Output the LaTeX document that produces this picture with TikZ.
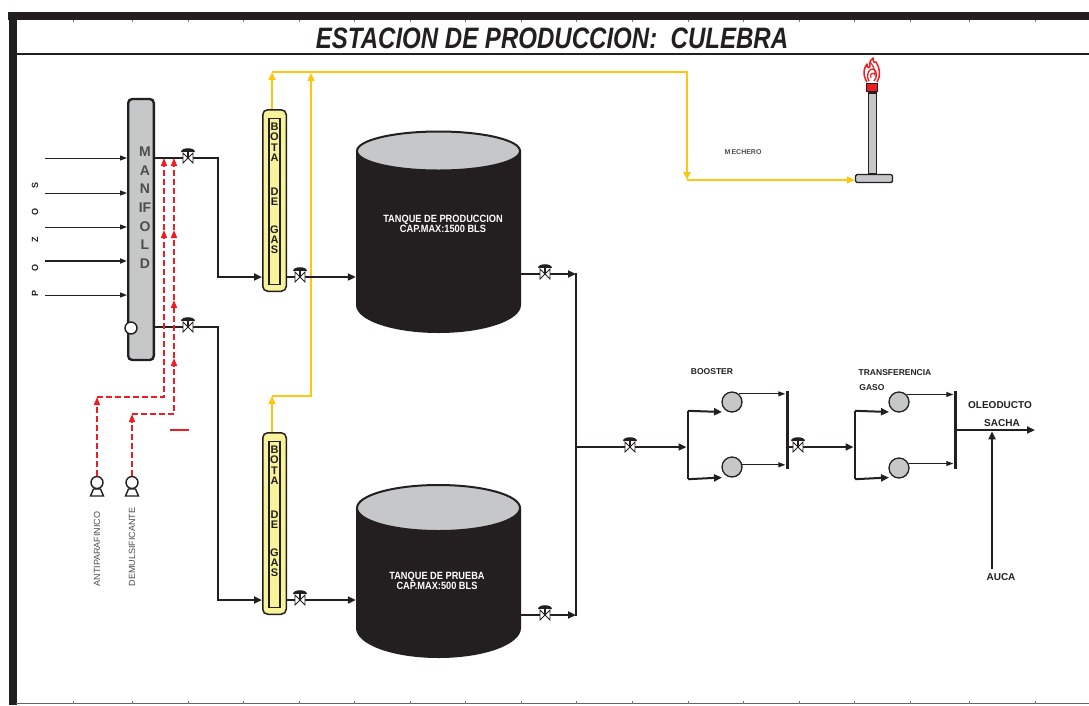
\documentclass[tikz,border=0pt]{standalone}
\usepackage{graphicx}
\usepackage{fontspec}
\setmainfont{Liberation Sans}
\usetikzlibrary{arrows.meta}
\definecolor{ink}{HTML}{231F20}
\definecolor{txtgray}{HTML}{4D4D4F}
\definecolor{mgray}{HTML}{C6C7C8}
\definecolor{botay}{HTML}{F8F39B}
\definecolor{gasy}{HTML}{FDC70F}
\definecolor{chemred}{HTML}{EE1D23}
\begin{document}
\begin{tikzpicture}[x=1pt,y=-1pt,
  pipe/.style={draw=ink,line width=2.4pt},
  feed/.style={draw=ink,line width=1pt},
  bigtip/.style={-{Triangle[length=8pt,width=7pt]}},
  smalltip/.style={-{Triangle[length=7pt,width=5pt]}},
  gas/.style={draw=gasy,line width=2pt},
  gastip/.style={-{Triangle[length=8pt,width=7pt]}},
  chem/.style={draw=chemred,line width=1.5pt,dash pattern=on 6pt off 3pt},
  chemtip/.style={-{Triangle[length=8pt,width=6pt]}},
  lbl/.style={font=\bfseries\fontsize{8.5}{9}\selectfont,text=ink,inner sep=0pt},
  pumpc/.style={circle,draw=ink,line width=1.3pt,fill=mgray,minimum size=20pt,inner sep=0pt},
  dosing/.style={circle,draw=ink,line width=1.4pt,fill=white,minimum size=12pt,inner sep=0pt},
  header/.style={fill=ink,minimum width=2.6pt,inner sep=0pt},
  botabox/.style={draw=ink,line width=1.5pt,fill=botay,rounded corners=5pt,minimum width=23.5pt,minimum height=181.5pt,inner sep=0pt},
  botainner/.style={draw=ink,line width=1.2pt,minimum width=11pt,minimum height=166pt,inner sep=0pt},
  botaletter/.style={font=\bfseries\fontsize{11}{11}\selectfont,text=ink,inner sep=0pt},
  tanktext/.style={font=\bfseries\fontsize{10.5}{10.7}\selectfont,text=white,align=center,inner sep=0pt},
  valve/.pic={
    \draw[ink,line width=0.9pt,fill=white] (-5,-5) -- (-5,5) -- (5,-5) -- (5,5) -- cycle;
    \draw[ink,line width=1.2pt] (0,0) -- (0,-7);
    \fill[ink] (-7,-6) .. controls (-7,-11) and (7,-11) .. (7,-6) -- cycle;
  },
]
% ---------- sheet frame ----------
\fill[white] (0,0) rectangle (1089,705);
\useasboundingbox (0,0) rectangle (1089,705);
\fill[ink] (8,12) rectangle (1089,19.5);
\fill[ink] (9,12) rectangle (16.5,705);
\draw[ink,line width=2.6pt] (16,54) -- (1089,54);
\draw[ink!70,line width=0.8pt] (16,703.8) -- (1089,703.8);
\foreach \tx in {73,132,188,243,299,354,410,465,521,576,632,688,743,799,854,910,969,1035}{
  \draw[ink!60,line width=0.6pt] (\tx,19.5) -- (\tx,21.5);
  \draw[ink!60,line width=0.6pt] (\tx,701) -- (\tx,703.5);
}
\node[font=\bfseries\itshape\fontsize{29.5}{30}\selectfont,text=ink,inner sep=0pt] (title) at (552,38)
  {\scalebox{0.815}[1]{ESTACION DE PRODUCCION:\ \ CULEBRA}};

% ---------- flare ----------
\node[draw=ink,line width=1.2pt,fill=mgray,minimum width=8pt,minimum height=81pt,inner sep=0pt] (flarestem) at (872.5,133.5) {};
\node[draw=ink,line width=1.4pt,fill=mgray,rounded corners=1.5pt,minimum width=37pt,minimum height=8pt,inner sep=0pt] (flarebase) at (874,178.5) {};
\node[draw=ink,line width=1.2pt,fill=chemred,minimum width=11pt,minimum height=8pt,inner sep=0pt] (flaretip) at (872,87.5) {};
\draw[chemred,line width=1.5pt,line join=round] (867,82) .. controls (862,74) and (864,68) .. (867,64)
  .. controls (867,68) and (869,69) .. (870,66) .. controls (869,62) and (871,59) .. (873,58)
  .. controls (873,62) and (875,64) .. (876,62) .. controls (880,68) and (881,76) .. (877,82);
\draw[chemred,line width=1.3pt] (869,81) .. controls (865,74) and (870,68) .. (873,69)
  .. controls (878,71) and (877,78) .. (874,81);
\draw[chemred,line width=1.1pt] (871,78) .. controls (869,73) and (874,72) .. (875,75)
  .. controls (876,70) and (872,64) .. (870,62);
\node[font=\bfseries\fontsize{7}{7}\selectfont,text=txtgray,inner sep=0pt] (mech) at (743,152) {M\,ECHERO};

% ---------- manifold ----------
\node[draw=ink,line width=2.4pt,fill=mgray,rounded corners=4pt,minimum width=25.6pt,minimum height=261pt,inner sep=0pt] (manifold) at (141,229.5) {};
\foreach \ch/\yy [count=\k] in {M/152,A/170.5,N/189,IF/208,O/226.5,L/245,D/263.5}
  \node[font=\bfseries\fontsize{14}{14}\selectfont,text=txtgray,inner sep=0pt] (mf\k) at (145,\yy) {\ch};
\node[dosing] (mcirc) at (131,328) {};

% wells
\foreach \yy [count=\k] in {158,193,227,261,295} \coordinate (w\k) at (45,\yy);
\foreach \k in {1,2,3,5} \draw[feed,smalltip] (w\k) -- (w\k -| manifold.west);
\draw[feed,line width=1.8pt,smalltip] (w4) -- (w4 -| manifold.west);
\foreach \ch/\yy [count=\k] in {P/293,O/268,Z/240,O/212,S/185}
  \node[rotate=90,font=\bfseries\fontsize{9}{9}\selectfont,text=ink,inner sep=0pt] (pz\k) at (35,\yy) {\ch};

% ---------- gas boots ----------
\node[botabox] (bota1) at (274.5,200.5) {};
\node[botainner] (bota1in) at (274.5,201.5) {};
\node[botabox] (bota2) at (274.5,523.5) {};
\node[botainner] (bota2in) at (274.5,524.5) {};
\foreach \ch/\dy [count=\k] in {B/18,O/28,T/38.5,A/48.5,D/83,E/93,G/120.5,A/130.5,S/141}{
  \node[botaletter] (ba\k) at (274.5,109+\dy) {\ch};
  \node[botaletter] (bb\k) at (274.5,432+\dy) {\ch};
}

\coordinate (ga) at (272,72);
\coordinate (gb) at (687,72);
\coordinate (gc) at (687,180);
\coordinate (gd) at (272,396);
\coordinate (ge) at (311,396);
\coordinate (gf) at (311,73);
\draw[gas,gastip] ([xshift=-2.5pt]bota1.north) -- (ga);
\draw[gas,gastip] (ga) -- (gb) -- (gc);
\draw[gas,gastip] (gc) -- (gc -| flarebase.west);
\draw[gas,gastip] ([xshift=-2.5pt]bota2.north) -- (gd);
\draw[gas,line width=1.6pt,gastip] (gd) -- (ge) -- (gf);

% ---------- tanks ----------
\fill[ink] (356,151) -- (356,305) arc[start angle=180,end angle=360,x radius=82.5pt,y radius=28pt] -- (521,151) -- cycle;
\draw[ink,line width=2pt,fill=mgray] (438.5,151) ellipse [x radius=81.5pt,y radius=19.5pt];
\node[inner sep=0pt,minimum width=165pt,minimum height=150pt] (tank1) at (438.5,230) {};
\node[tanktext] (t1label) at (443,224)
  {\scalebox{0.88}[1]{TANQUE DE PRODUCCION}\\\scalebox{0.88}[1]{CAP.MAX:1500 BLS}};

\fill[ink] (356,508) -- (356,628) arc[start angle=180,end angle=360,x radius=82.5pt,y radius=30pt] -- (521,508) -- cycle;
\draw[ink,line width=2pt,fill=mgray] (438.5,508) ellipse [x radius=81.5pt,y radius=23pt];
\node[inner sep=0pt,minimum width=165pt,minimum height=120pt] (tank2) at (438.5,570) {};
\node[tanktext] (t2label) at (437,581)
  {\scalebox{0.88}[1]{TANQUE DE PRUEBA}\\\scalebox{0.88}[1]{CAP.MAX:500 BLS}};

% ---------- process piping ----------
\coordinate (j1) at (218,158);
\coordinate (j2) at (218,327);
\coordinate (k1) at (218,277);
\coordinate (k2) at (218,600);
\draw[pipe,bigtip] (manifold.east |- j1) -- (j1) -- (k1) -- (k1 -| bota1.west);
\draw[pipe,bigtip] (manifold.east |- j2) -- (j2) -- (k2) -- (k2 -| bota2.west);
\draw[pipe,bigtip] (k1 -| bota1.east) -- (k1 -| tank1.west);
\draw[pipe,bigtip] (k2 -| bota2.east) -- (k2 -| tank2.west);

\coordinate (c1) at (576,274);
\coordinate (c2) at (576,615);
\coordinate (c0) at (576,447);
\draw[pipe,bigtip] (c1 -| tank1.east) -- (c1);
\draw[pipe,bigtip] (c2 -| tank2.east) -- (c2);
\draw[pipe] (576,272.8) -- (576,616.2);

% booster group
\node[header,minimum height=68pt] (bhead) at (688,445) {};
\node[header,minimum height=78pt,minimum width=3pt] (rhead) at (787,429.5) {};
\node[pumpc] (bp1) at (732,402) {};
\node[pumpc] (bp2) at (732,467) {};
\coordinate (bp1in) at (722,412);
\coordinate (bp2in) at (722,477.5);
\draw[pipe,bigtip] (c0) -- (c0 -| bhead.west);
\draw[pipe,line width=2pt,bigtip] (bhead.north) -- (bp1in);
\draw[pipe,line width=2pt,bigtip] (bhead.south) -- (bp2in);
\draw[feed,smalltip] (bp1.50) -- (bp1.50 -| rhead.west);
\draw[feed,smalltip] (bp2.12) -- (bp2.12 -| rhead.west);
\node[lbl] (booster) at (712,372) {BOOSTER};

% transfer group
\node[header,minimum height=68pt] (thead) at (855,445) {};
\node[header,minimum height=78pt,minimum width=3pt] (trhead) at (955,429.5) {};
\node[pumpc] (tp1) at (899,402) {};
\node[pumpc] (tp2) at (899,468) {};
\coordinate (tp1in) at (889,412);
\coordinate (tp2in) at (889,477.5);
\draw[pipe,bigtip] (c0 -| rhead.east) -- (c0 -| thead.west);
\draw[pipe,line width=2pt,bigtip] (thead.north) -- (tp1in);
\draw[pipe,line width=2pt,bigtip] (thead.south) -- (tp2in);
\draw[feed,smalltip] (tp1.45) -- (tp1.45 -| trhead.west);
\draw[feed,smalltip] (tp2.25) -- (tp2.25 -| trhead.west);
\node[lbl] (transf) at (895,373) {TRANSFERENCIA};
\node[lbl] (gaso) at (872,388) {GASO};

% export line
\coordinate (ole) at (1035,430);
\coordinate (aucain) at (992,569);
\draw[pipe,line width=2.8pt,bigtip] (ole -| trhead.east) -- (ole);
\draw[pipe,line width=2pt,bigtip,shorten >=1.4pt] (aucain) -- (aucain |- ole);
\node[lbl,font=\bfseries\fontsize{10}{10}\selectfont] (oleo) at (1000,405) {OLEODUCTO};
\node[lbl,font=\bfseries\fontsize{10}{10}\selectfont] (sacha) at (1002,423) {SACHA};
\node[lbl,font=\bfseries\fontsize{10}{10}\selectfont] (auca) at (1001,577) {AUCA};

% valves
\pic (v1) at (188,158) {valve};
\pic (v2) at (188,327) {valve};
\pic (v3) at (300,277) {valve};
\pic (v4) at (300,600) {valve};
\pic (v5) at (545,274) {valve};
\pic (v6) at (545,615) {valve};
\pic (v7) at (630,447) {valve};
\pic (v8) at (798,447) {valve};

% ---------- chemical injection ----------
\node[dosing] (pumpA) at (97,482.5) {};
\node[dosing] (pumpB) at (132,482.5) {};
\draw[ink,line width=1.4pt,fill=white] (90.5,496) -- (103.5,496) -- (100.5,489) -- (93.5,489) -- cycle;
\draw[ink,line width=1.4pt,fill=white] (125.5,496) -- (138.5,496) -- (135.5,489) -- (128.5,489) -- cycle;
\node[rotate=90,font=\fontsize{9}{9}\selectfont,text=txtgray,inner sep=0pt] (lblA) at (97,549) {ANTIPARAFINICO};
\node[rotate=90,font=\fontsize{9}{9}\selectfont,text=txtgray,inner sep=0pt] (lblB) at (132,547) {DEMULSIFICANTE};

\coordinate (ca1) at (97,397);
\coordinate (ca2) at (164,397);
\coordinate (ca3) at (164,230);
\coordinate (ca4) at (164,158);
\draw[chem,chemtip] (pumpA.north) -- (ca1);
\draw[chem,chemtip] (ca1) -- (ca2) -- (ca3);
\draw[chem,chemtip] (ca3) -- (ca4);

\coordinate (cb1) at (132,414);
\coordinate (cb2) at (174,414);
\coordinate (cb3) at (174,358);
\coordinate (cb4) at (174,300);
\coordinate (cb5) at (174,230);
\coordinate (cb6) at (174,158);
\draw[chem,chemtip] (pumpB.north) -- (cb1);
\draw[chem,chemtip] (cb1) -- (cb2) -- (cb3);
\draw[chem,chemtip] (cb3) -- (cb4);
\draw[chem,chemtip] (cb4) -- (cb5);
\draw[chem,chemtip] (cb5) -- (cb6);
\draw[chemred,line width=1.5pt] (170,430) -- (189,430);
\end{tikzpicture}
\end{document}
